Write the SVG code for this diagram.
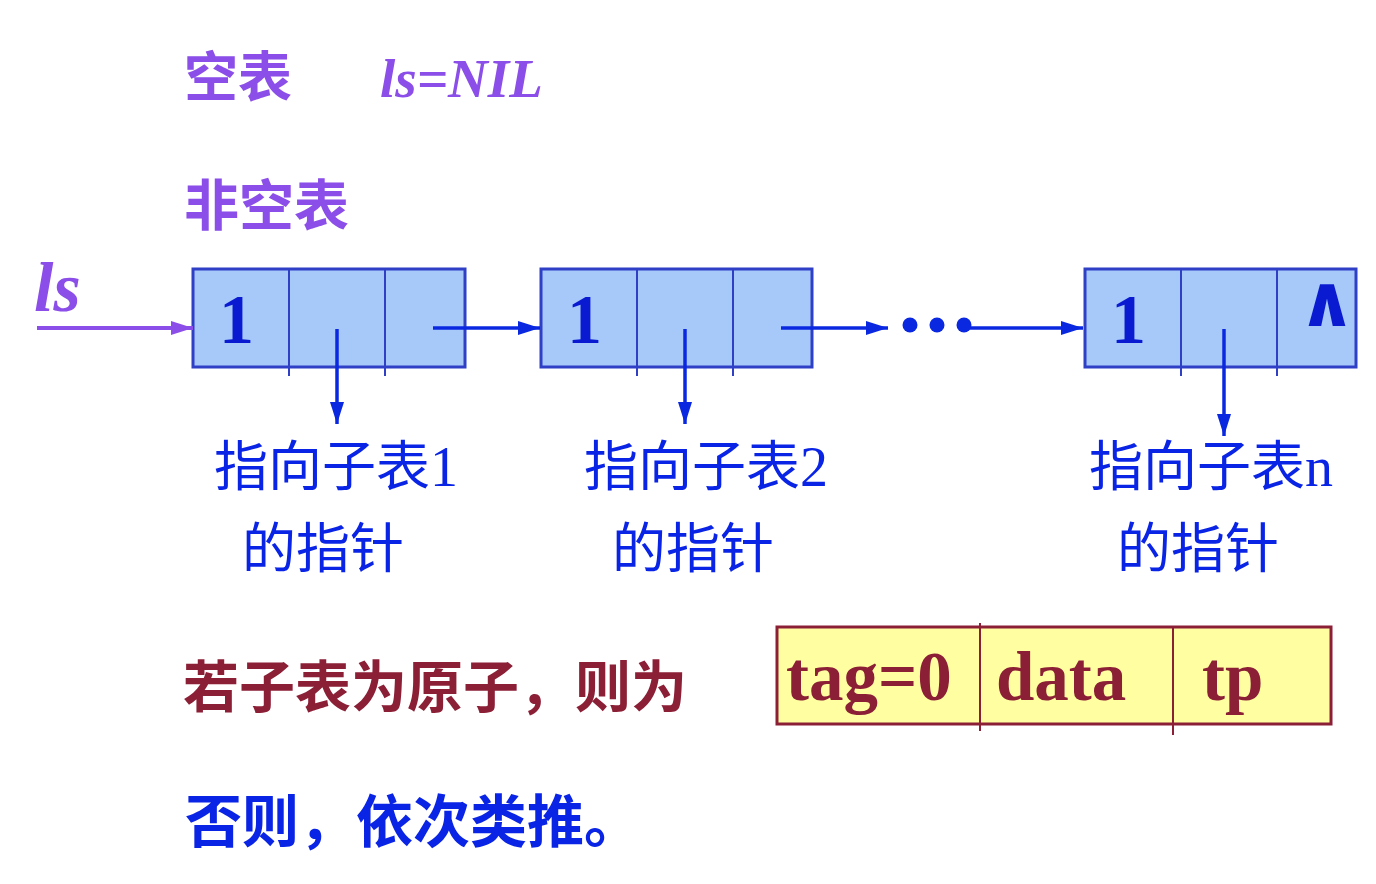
<svg xmlns="http://www.w3.org/2000/svg" width="1376" height="884" viewBox="0 0 1376 884">
<style>
.cell{fill:#a6c9fa;stroke:#2f3fc6;stroke-width:3}
.div{stroke:#2f3fc6;stroke-width:2}
.one{font-family:"Liberation Serif",serif;font-weight:bold;font-size:70px;fill:#0a1ad0}
.lbl{font-family:"Noto Sans CJK SC","Noto Sans",sans-serif;font-size:54px;fill:#0a24e6}
.dig{font-family:"Liberation Serif",serif;font-size:56px}
.con{stroke:#0a28e0;stroke-width:3.5;fill:none}
.ttl{font-family:"Noto Sans CJK SC",sans-serif;font-weight:bold;fill:#8b4ee8}
.ybox{fill:#ffffa2;stroke:#8b1f36;stroke-width:3}
.ydiv{stroke:#8b1f36;stroke-width:2}
.ytxt{font-family:"Liberation Serif",serif;font-weight:bold;font-size:69px;fill:#8b1f36}
</style>
<defs>
<marker id="ab" markerUnits="userSpaceOnUse" markerWidth="24" markerHeight="16" refX="22" refY="7" orient="auto"><path d="M0,0 L22,7 L0,14 z" fill="#0a28e0"/></marker>
<marker id="ap" markerUnits="userSpaceOnUse" markerWidth="24" markerHeight="16" refX="22" refY="7" orient="auto"><path d="M0,0 L22,7 L0,14 z" fill="#8b4ee8"/></marker>
</defs>
<g id="titles">
<text class="ttl" x="184" y="97" font-size="54">空表</text>
<text x="380" y="97" font-family="Liberation Serif,serif" font-weight="bold" font-style="italic" font-size="55" fill="#8b4ee8">ls=NIL</text>
<text class="ttl" x="184" y="225" font-size="55">非空表</text>
</g>
<g id="ls">
<text x="34" y="311" font-family="Liberation Serif,serif" font-weight="bold" font-style="italic" font-size="70" fill="#8b4ee8">ls</text>
</g>
<g id="node1">
<rect class="cell" x="193" y="269" width="272" height="98"/>
<line class="div" x1="289" y1="269" x2="289" y2="376"/>
<line class="div" x1="385" y1="269" x2="385" y2="376"/>
<text class="one" x="219" y="343">1</text>
</g>
<g id="node2">
<rect class="cell" x="541" y="269" width="271" height="98"/>
<line class="div" x1="637" y1="269" x2="637" y2="376"/>
<line class="div" x1="733" y1="269" x2="733" y2="376"/>
<text class="one" x="567" y="343">1</text>
</g>
<g id="noden">
<rect class="cell" x="1085" y="269" width="271" height="98"/>
<line class="div" x1="1181" y1="269" x2="1181" y2="376"/>
<line class="div" x1="1277" y1="269" x2="1277" y2="376"/>
<text class="one" x="1111" y="343">1</text>
<text x="1327" y="326" text-anchor="middle" font-family="DejaVu Sans,sans-serif" font-weight="bold" font-size="72" fill="#0a1ad0">∧</text>
</g>
<g id="connectors">
<line x1="37" y1="328" x2="193" y2="328" stroke="#8b4ee8" stroke-width="4" marker-end="url(#ap)"/>
<line class="con" x1="433" y1="328" x2="540" y2="328" marker-end="url(#ab)"/>
<line class="con" x1="781" y1="328" x2="888" y2="328" marker-end="url(#ab)"/>
<line class="con" x1="964" y1="328" x2="1083" y2="328" marker-end="url(#ab)"/>
<line class="con" x1="337" y1="329" x2="337" y2="424" marker-end="url(#ab)"/>
<line class="con" x1="685" y1="329" x2="685" y2="424" marker-end="url(#ab)"/>
<line class="con" x1="1224" y1="329" x2="1224" y2="436" marker-end="url(#ab)"/>
<circle cx="910" cy="325" r="7.5" fill="#0a28e0"/>
<circle cx="937" cy="325" r="7.5" fill="#0a28e0"/>
<circle cx="964" cy="325" r="7.5" fill="#0a28e0"/>
</g>
<g id="label1">
<text class="lbl" x="214" y="486">指向子表<tspan class="dig">1</tspan></text>
<text class="lbl" x="242" y="568">的指针</text>
</g>
<g id="label2">
<text class="lbl" x="584" y="486">指向子表<tspan class="dig">2</tspan></text>
<text class="lbl" x="612" y="568">的指针</text>
</g>
<g id="labeln">
<text class="lbl" x="1089" y="486">指向子表<tspan class="dig">n</tspan></text>
<text class="lbl" x="1117" y="568">的指针</text>
</g>
<g id="atom">
<text x="183" y="707" font-family="Noto Sans CJK SC,sans-serif" font-weight="bold" font-size="56" fill="#8b1f36">若子表为原子，则为</text>
<rect class="ybox" x="777" y="627" width="554" height="97"/>
<line class="ydiv" x1="980" y1="623" x2="980" y2="731"/>
<line class="ydiv" x1="1173" y1="627" x2="1173" y2="735"/>
<text class="ytxt" x="786" y="700">tag=0</text>
<text class="ytxt" x="996" y="700">data</text>
<text class="ytxt" x="1202" y="700">tp</text>
</g>
<g id="other">
<text x="185" y="842" font-family="Noto Sans CJK SC,sans-serif" font-weight="bold" font-size="57" fill="#0a24e6">否则，依次类推。</text>
</g>
</svg>
